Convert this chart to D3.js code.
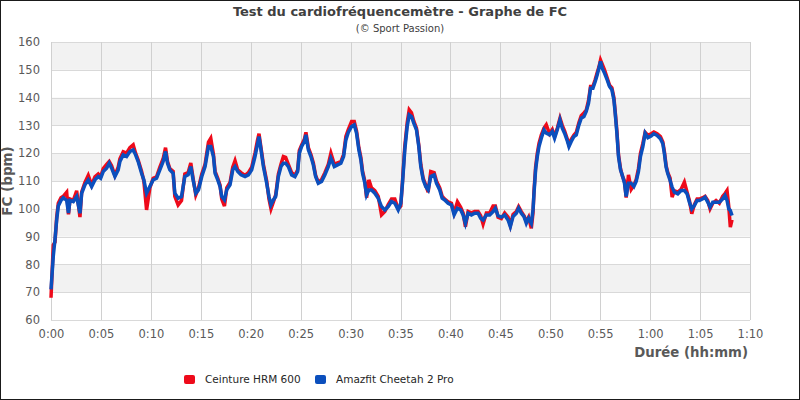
<!DOCTYPE html>
<html>
<head>
<meta charset="utf-8">
<script src="https://cdn.jsdelivr.net/npm/d3@7"></script>
<style>
  body { margin: 0; background: #fff; }
  svg { display: block; font-family: 'DejaVu Sans', sans-serif; }
</style>
</head>
<body>
<script>
'use strict';

// elapsed time in minutes
const minutes = [
  0, 0.23, 0.4, 0.57, 0.73, 1.0, 1.23, 1.57, 1.75, 1.9, 2.23, 2.57, 2.9, 3.07, 3.4, 3.73, 4.07, 4.4, 4.73, 4.97,
  5.23, 5.57, 5.83, 6.07, 6.4, 6.73, 6.9, 7.23, 7.57, 7.9, 8.23, 8.47, 8.73, 9.07, 9.3, 9.57, 9.9,
  10.23, 10.57, 10.9, 11.23, 11.47, 11.67, 11.9, 12.23, 12.4, 12.73, 13.07, 13.4, 13.73, 14.0, 14.23, 14.5, 14.77,
  15.1, 15.43, 15.77, 16.0, 16.27, 16.43, 16.7, 16.93, 17.1, 17.37, 17.6, 17.93, 18.2, 18.43, 18.7, 19.03, 19.43, 19.77,
  20.1, 20.43, 20.67, 20.83, 21.03, 21.27, 21.6, 21.83, 22.03, 22.27, 22.5, 22.77, 23.03, 23.27, 23.5, 23.77, 24.1, 24.43, 24.7, 24.87,
  25.1, 25.37, 25.53, 25.77, 26.03, 26.27, 26.5, 26.77, 27.1, 27.43, 27.77, 28.03, 28.37, 28.7, 29.03, 29.3, 29.53, 29.77,
  30.1, 30.37, 30.6, 30.83, 31.03, 31.2, 31.43, 31.6, 31.83, 32.1, 32.43, 32.77, 33.1, 33.43, 33.77, 34.1, 34.43, 34.77,
  35.03, 35.2, 35.43, 35.67, 35.87, 36.1, 36.33, 36.6, 36.83, 37.03, 37.27, 37.53, 37.77, 38.03, 38.37, 38.6, 38.93, 39.17, 39.43, 39.77,
  40.1, 40.37, 40.7, 41.03, 41.27, 41.5, 41.77, 42.1, 42.43, 42.77, 43.03, 43.27, 43.6, 43.93, 44.27, 44.5, 44.77,
  45.1, 45.43, 45.77, 46.0, 46.27, 46.6, 46.83, 47.1, 47.37, 47.6, 47.83, 48.1, 48.27, 48.37, 48.53, 48.7, 48.87, 49.1, 49.37, 49.6, 49.93,
  50.2, 50.43, 50.7, 50.97, 51.2, 51.43, 51.67, 51.87, 52.1, 52.37, 52.6, 52.87, 53.1, 53.37, 53.6, 53.83, 54.03, 54.27, 54.5, 54.7, 54.87,
  55.03, 55.2, 55.43, 55.7, 55.93, 56.17, 56.37, 56.5, 56.67, 56.83, 57.03, 57.2, 57.43, 57.6, 57.83, 58.1, 58.37, 58.6, 58.83, 59.03, 59.27, 59.5, 59.77,
  60.1, 60.37, 60.7, 61.03, 61.27, 61.43, 61.6, 61.77, 62.0, 62.2, 62.43, 62.77, 63.1, 63.43, 63.7, 63.93, 64.17, 64.43, 64.7, 64.93,
  65.27, 65.5, 65.77, 66.0, 66.27, 66.6, 66.93, 67.27, 67.5, 67.7, 67.87, 68.03, 68.2
];

// Ceinture HRM 600 (red)
const beltHr = [
  68, 87, 88, 97, 102, 104, 104.5, 106, 98, 103.5, 103, 106.5, 97, 106, 109.5, 112, 108.5, 111.5, 112.5, 111.5,
  114.5, 116, 117, 115.5, 112, 115, 118, 120.5, 120, 122, 123, 120, 117.5, 113.5, 110, 99.6, 107.5,
  111, 111.5, 115, 118, 122, 117, 114.5, 113.5, 104.5, 101.4, 103, 112.5, 113, 116.5, 111, 105, 107.5,
  112.5, 116, 124, 125.4, 119.5, 113.5, 111, 108.5, 103.5, 101, 107.5, 109.5, 115, 117.3, 114, 113, 112, 113,
  115, 120, 124.5, 127, 122, 116, 110, 103.5, 100, 102.5, 105, 112.5, 116, 118.8, 118.5, 116, 113, 112, 114, 121,
  123, 125, 127.5, 122, 119.5, 116.5, 112, 109.5, 110.5, 113, 116, 120, 116, 116.5, 117, 119.5, 126, 128.5,
  131.4, 131.4, 128, 122, 118.5, 113.5, 110, 104, 110.4, 107.5, 106.5, 104.5, 97.8, 99, 101.5, 103.5, 103.5, 100,
  101, 110, 122.5, 131, 135.6, 134.5, 131.5, 129, 123, 116, 111, 108.5, 106, 113.4, 113, 110, 107.5, 104.5, 103.5, 102.5,
  102, 98.5, 102.5, 100.5, 98.5, 93.6, 99, 98.5, 99, 99, 97.5, 94.5, 98.5, 98.5, 101, 101, 97,
  96.5, 98.5, 97, 94, 98, 99, 100.8, 99, 97.5, 95.5, 97, 93, 98.5, 106.5, 115, 120, 123.5, 126.5, 129, 130.2, 127,
  128.5, 126, 129, 132.6, 130, 128, 125.5, 123, 125, 126.5, 127.5, 131, 133.5, 134.5, 135.5, 139, 144, 144, 146.5, 149, 151,
  153.5, 152, 150, 147, 144.5, 143.5, 140, 135, 128, 119.5, 114.5, 112, 110, 104, 112.2, 107, 108.5, 110.5, 114.5, 120, 123.5, 127.5, 126.5,
  127, 127.6, 127, 126, 124, 120.5, 115.5, 113, 111, 104.2, 106.5, 106, 107, 109.6, 106, 103, 98.2, 101.5, 103.5, 103.5,
  104, 104.5, 103, 100, 102, 103, 102, 104.5, 105.5, 106.6, 101, 93.4, 96
];

// Amazfit Cheetah 2 Pro (blue)
const watchHr = [
  71, 83, 89, 96, 101, 103, 104, 103, 98.5, 103, 102.6, 104.4, 98.4, 105.6, 108.6, 110.4, 108, 110.4, 111.6, 111,
  113.4, 114.6, 116.4, 114.6, 111.6, 114, 117, 119.4, 118.8, 120.6, 121.2, 119.4, 117, 112.8, 110.4, 105.6, 108,
  110.4, 111, 114, 117, 120.6, 116.4, 114, 112.8, 105.6, 103.8, 104.4, 111.6, 112.2, 115.2, 110.4, 105.6, 106.8,
  111.6, 115.2, 122.4, 122.4, 118.8, 112.8, 110.4, 108, 104.4, 103.2, 106.8, 108.6, 114, 115.2, 113.4, 112.2, 111.6, 112.2,
  114, 118.8, 123, 126, 121.2, 115.2, 109.2, 104.4, 101.4, 103.2, 104.4, 111.6, 115.2, 116.4, 116.4, 115.2, 112.2, 111.6, 113.4, 120,
  122.4, 124.2, 126.6, 121.2, 118.8, 115.8, 111.6, 109.2, 109.8, 112.2, 115.2, 118.2, 115.2, 115.8, 116.4, 118.8, 124.8, 127.5,
  129.6, 130.2, 127.2, 121.2, 117.6, 112.8, 109.2, 105, 106.8, 106.8, 105.6, 103.8, 100.8, 99.6, 100.8, 102.6, 102, 99.6,
  102, 109.2, 121.2, 129.6, 133.8, 133.2, 130.8, 128.4, 122.4, 115.2, 110.4, 108, 106.8, 111.6, 112.2, 109.2, 106.8, 103.8, 103.2, 102,
  101.4, 97.8, 100.2, 99.6, 97.8, 94.8, 98.4, 97.8, 98.4, 98.4, 96.6, 96, 97.8, 97.8, 99, 100.2, 97.5,
  97, 97.8, 96, 93.6, 97.2, 98.4, 100.2, 98.4, 97.2, 94.8, 96.6, 94.8, 99.6, 105.6, 114, 118.8, 122.4, 125.4, 128.4, 127.2, 126.6,
  127.8, 125.4, 128.4, 132, 129, 127.2, 124.8, 122.4, 124.2, 126, 126.6, 130.2, 132.6, 133.2, 135, 138, 143.4, 143.4, 145.8, 148.2, 150.6,
  153, 150.6, 148.8, 146.4, 144, 142.8, 139.2, 134.4, 127.2, 118.8, 114, 112.2, 109.2, 104.4, 109.2, 109.2, 108, 109.8, 113.4, 118.8, 122.4, 127.2, 125.6,
  126.2, 127, 126.4, 125.2, 123.4, 119.8, 115, 112.6, 110.2, 107.8, 106, 105.4, 106.6, 106.6, 105.4, 102.4, 100, 101.2, 103, 103,
  103.6, 104.2, 102.4, 100.6, 102.4, 102.4, 102.4, 103.6, 104.8, 103, 100, 99.4, 97.6
];

const seriesNames = ['Ceinture HRM 600', 'Amazfit Cheetah 2 Pro'];
const seriesColors = ['#ee0a1a', '#0b4fbd'];
const xTicks = [0, 5, 10, 15, 20, 25, 30, 35, 40, 45, 50, 55, 60, 65, 70];
const yTicks = [60, 70, 80, 90, 100, 110, 120, 130, 140, 150, 160];

(function() {
  let svg = '';

  window.onload = function() {
    svg = d3
      .select('body')
      .append('svg')
      .attr('width', 800)
      .attr('height', 400);

    svg
      .append('rect')
      .attr('x', 0.5)
      .attr('y', 0.5)
      .attr('width', 799)
      .attr('height', 399)
      .attr('fill', '#fff')
      .attr('stroke', '#1a1a1a');

    const xScale = d3.scaleLinear().domain([0, 70]).range([51, 750]);
    const yScale = d3.scaleLinear().domain([60, 160]).range([320, 42]);

    drawGrid(xScale, yScale);
    drawAxes(xScale, yScale);
    plotLines(xScale, yScale);
    makeLabels();
    makeLegend();
  };

  // alternating bands + grid lines
  function drawGrid(xScale, yScale) {
    const bands = yTicks.slice(0, -1).filter(v => (v / 10) % 2 === 1);
    svg
      .selectAll('.band')
      .data(bands)
      .enter()
      .append('rect')
      .attr('x', xScale(0))
      .attr('width', xScale(70) - xScale(0))
      .attr('y', d => yScale(d + 10))
      .attr('height', d => yScale(d) - yScale(d + 10))
      .attr('fill', '#f2f2f2');

    svg
      .selectAll('.hgrid')
      .data(yTicks)
      .enter()
      .append('line')
      .attr('x1', xScale(0))
      .attr('x2', xScale(70))
      .attr('y1', d => Math.round(yScale(d)) + 0.5)
      .attr('y2', d => Math.round(yScale(d)) + 0.5)
      .attr('stroke', '#d9d9d9');

    svg
      .selectAll('.vgrid')
      .data(xTicks)
      .enter()
      .append('line')
      .attr('x1', d => Math.round(xScale(d)) + 0.5)
      .attr('x2', d => Math.round(xScale(d)) + 0.5)
      .attr('y1', yScale(160))
      .attr('y2', yScale(60))
      .attr('stroke', '#d0d0d0');
  }

  // tick labels through d3 axes, lines hidden
  function drawAxes(xScale, yScale) {
    const fmt = m => Math.floor(m / 60) + ':' + String(m % 60).padStart(2, '0');

    const xAxis = svg
      .append('g')
      .attr('transform', 'translate(0, 320)')
      .call(d3.axisBottom(xScale).tickValues(xTicks).tickFormat(fmt).tickSize(0).tickPadding(10));

    const yAxis = svg
      .append('g')
      .attr('transform', 'translate(51, 0)')
      .call(d3.axisLeft(yScale).tickValues(yTicks).tickSize(0).tickPadding(11));

    [xAxis, yAxis].forEach(g => {
      g.select('.domain').remove();
      g.selectAll('text')
        .style('font-family', 'DejaVu Sans')
        .style('font-size', '11.5px')
        .attr('fill', '#595959');
    });
  }

  // red first, blue on top
  function plotLines(xScale, yScale) {
    const line = d3
      .line()
      .x(d => xScale(d[0]))
      .y(d => yScale(d[1]));

    [beltHr, watchHr].forEach((values, i) => {
      svg
        .append('path')
        .datum(minutes.map((m, j) => [m, values[j]]))
        .attr('fill', 'none')
        .attr('stroke', seriesColors[i])
        .attr('stroke-width', 3.5)
        .attr('d', line);
    });
  }

  function makeLabels() {
    svg
      .append('text')
      .attr('x', 400)
      .attr('y', 16)
      .attr('text-anchor', 'middle')
      .style('font-size', '13px')
      .style('font-weight', 'bold')
      .attr('fill', '#404040')
      .text('Test du cardiofréquencemètre - Graphe de FC');

    svg
      .append('text')
      .attr('x', 400)
      .attr('y', 32)
      .attr('text-anchor', 'middle')
      .style('font-size', '10px')
      .attr('fill', '#404040')
      .text('(© Sport Passion)');

    svg
      .append('text')
      .attr('x', 748)
      .attr('y', 357)
      .attr('text-anchor', 'end')
      .style('font-size', '13.3px')
      .style('font-weight', 'bold')
      .attr('fill', '#595959')
      .text('Durée (hh:mm)');

    svg
      .append('text')
      .attr('transform', 'translate(12, 181)rotate(-90)')
      .attr('text-anchor', 'middle')
      .style('font-size', '13.5px')
      .style('font-weight', 'bold')
      .attr('fill', '#595959')
      .text('FC (bpm)');
  }

  function makeLegend() {
    const xs = [184, 315];
    seriesNames.forEach((name, i) => {
      svg
        .append('rect')
        .attr('x', xs[i])
        .attr('y', 375)
        .attr('width', 11)
        .attr('height', 9)
        .attr('rx', 2)
        .attr('fill', seriesColors[i]);

      svg
        .append('text')
        .attr('x', xs[i] + 21)
        .attr('y', 383)
        .style('font-size', '10.5px')
        .attr('fill', '#262626')
        .text(name);
    });
  }
})();
</script>
</body>
</html>
